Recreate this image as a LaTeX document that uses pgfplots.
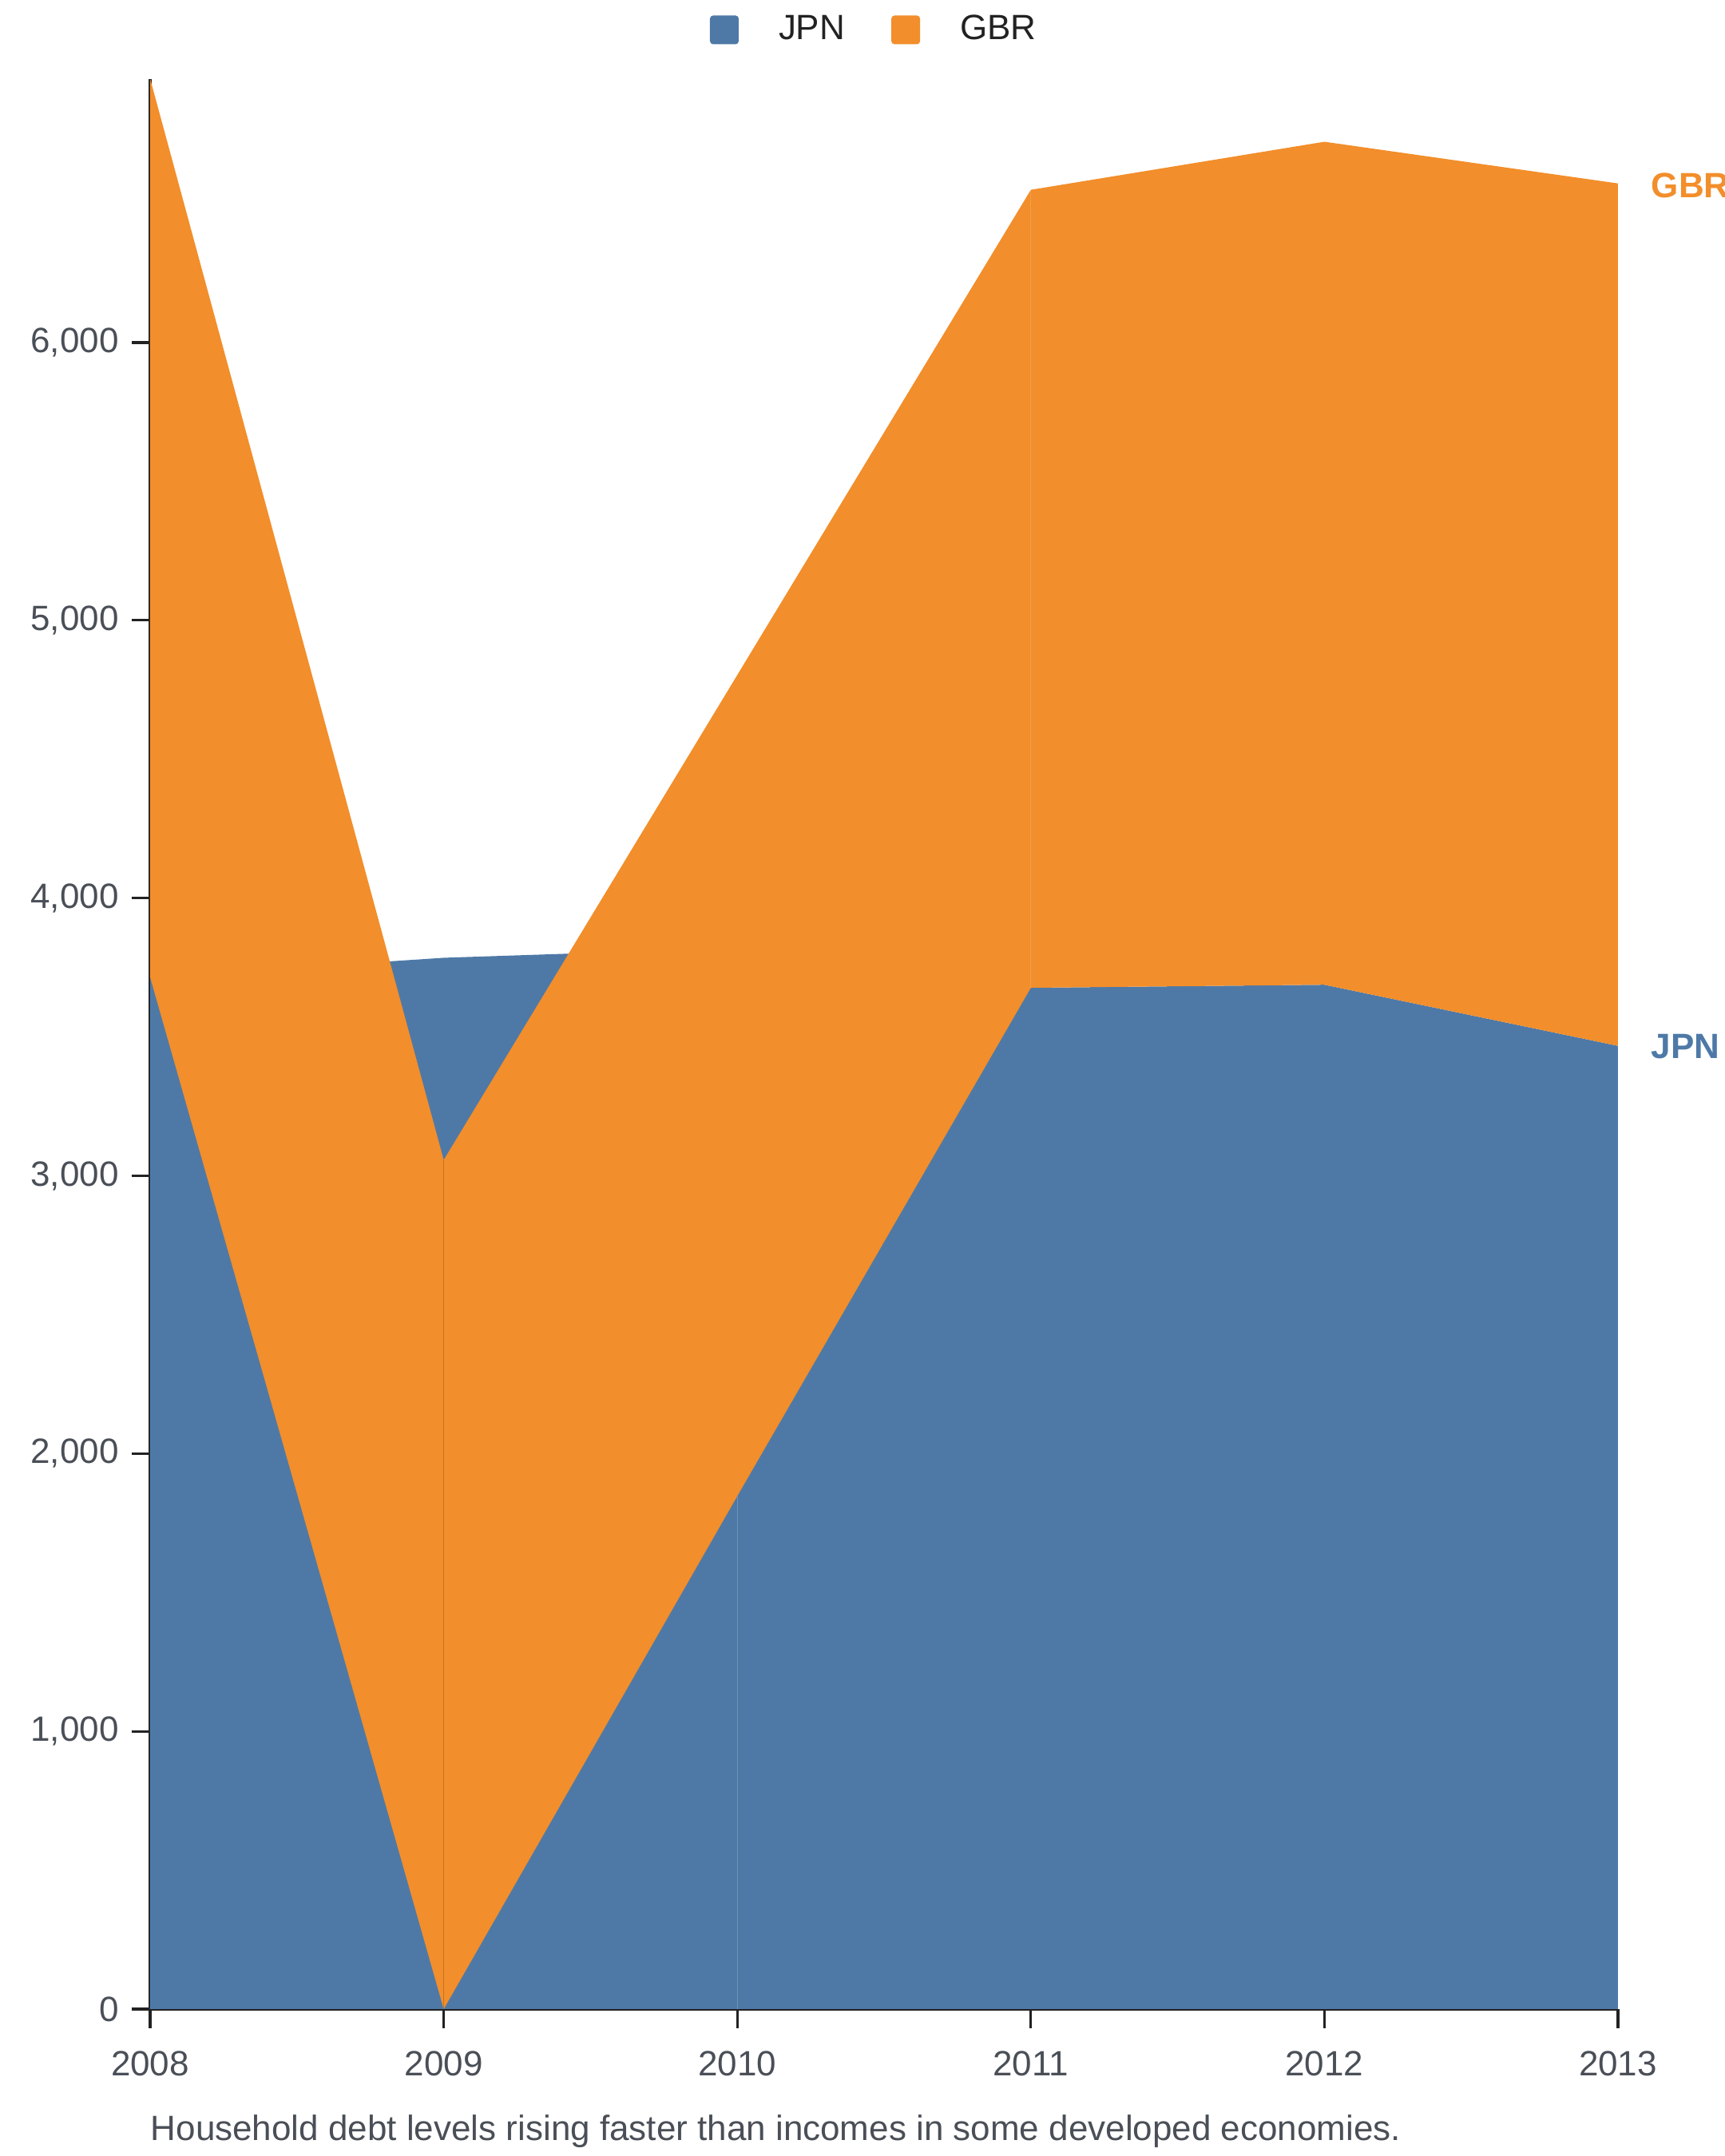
\documentclass[border=0pt]{standalone}
\usepackage{pgfplots}
\pgfplotsset{compat=1.18}
\usepackage{fontspec}
\setmainfont{Liberation Sans}
\definecolor{jpn}{HTML}{4E79A7}
\definecolor{gbr}{HTML}{F28E2B}
\definecolor{axisc}{HTML}{222222}
\definecolor{labc}{HTML}{4A4F57}
\newcommand{\fs}{\fontsize{11}{13}\selectfont}
\begin{document}
\begin{tikzpicture}
\begin{axis}[
  at={(47pt,46pt)}, anchor=south west,
  scale only axis, width=459.5pt, height=604.35pt,
  xmin=2008, xmax=2013, ymin=0, ymax=6950,
  clip=false,
  axis x line*=bottom, axis y line*=left,
  axis line style={axisc, line width=0.8pt},
  xtick={2008,2009,2010,2011,2012,2013},
  xticklabels={2008,2009,2010,2011,2012,2013},
  ytick={0,1000,2000,3000,4000,5000,6000},
  scaled y ticks=false,
  /pgf/number format/.cd, 1000 sep={,}, assume math mode=true,
  /pgfplots/.cd,
  tick align=outside, major tick length=5.9pt,
  tick style={axisc, line width=0.8pt},
  every tick label/.append style={font=\fs, text=labc},
  xticklabel style={anchor=north, inner sep=0pt, yshift=-7.2pt},
  yticklabel style={anchor=east, inner sep=0pt, xshift=-3.8pt},
  legend style={draw=none, fill=none, at={(axis description cs:0.3814,1.0253)}, anchor=west,
    legend columns=2, font=\fs, text=axisc, inner sep=0pt, outer sep=0pt,
    nodes={inner sep=0pt}, cells={anchor=west},
    /tikz/every even column/.append style={column sep=14.5pt}},
  legend image code/.code={\fill[#1, draw=none, rounded corners=1pt] (0pt,-4.5pt) rectangle (9pt,4.5pt); \path[draw=none, fill=none] (0pt,-4.5pt) rectangle (21.5pt,4.5pt);},
]
\addplot[fill=jpn, draw=none] coordinates {(2008,3715)(2009,3785)(2010,3820)(2011,3677)(2012,3688)(2013,3468)} \closedcycle;
\addlegendentry{JPN}
\addplot[fill=gbr, draw=none] coordinates {(2008,3715)(2009,0)(2010,1847)(2011,3677)(2012,3688)(2013,3468)(2013,6573)(2012,6723)(2011,6550)(2010,4803)(2009,3057)(2008,6950)};
\addlegendentry{GBR}
\addplot[forget plot, draw=black, draw opacity=0.18, line width=0.3pt] coordinates {(2009,0)(2009,3057)};
\addplot[forget plot, draw=white, draw opacity=0.18, line width=0.3pt] coordinates {(2010,0)(2010,1847)};
\addplot[forget plot, draw=white, draw opacity=0.15, line width=0.3pt] coordinates {(2011,3677)(2011,6550)};
\node[anchor=west, inner sep=0pt, xshift=10.25pt, text=gbr, font=\bfseries\fs] at (axis cs:2013,6565) {GBR};
\node[anchor=west, inner sep=0pt, xshift=10.25pt, text=jpn, font=\bfseries\fs] at (axis cs:2013,3465) {JPN};
\end{axis}
\node[anchor=base west, inner sep=0pt, font=\fs, text=labc] at (47pt,5pt) {Household debt levels rising faster than incomes in some developed economies.};
\pgfresetboundingbox
\path[use as bounding box] (0,0) rectangle (540pt,675pt);
\end{tikzpicture}
\end{document}
